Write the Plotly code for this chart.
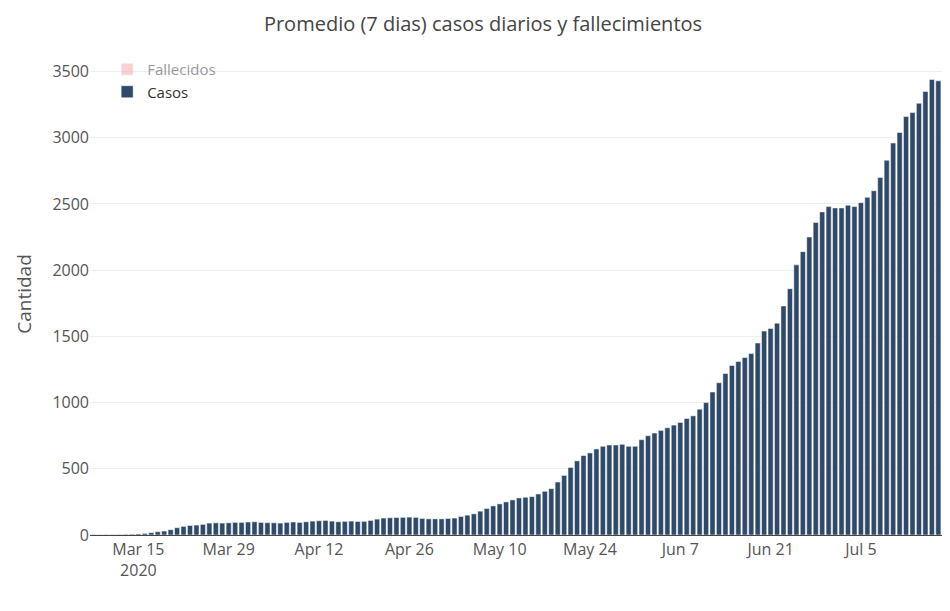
import pandas as pd
import plotly.graph_objects as go

fechas = pd.date_range("2020-03-08", periods=133, freq="D")

casos = [
    2, 2, 3, 3, 4, 5, 6,
    8, 12, 18, 25, 30, 40, 55,
    65, 72, 75, 80, 90, 92, 90,
    92, 95, 95, 98, 100, 95, 93,
    92, 90, 95, 98, 95, 100, 105,
    108, 110, 105, 100, 103, 105, 102,
    103, 110, 120, 128, 130, 132, 133,
    135, 133, 125, 122, 122, 122, 125,
    128, 140, 150, 160, 180, 200, 220,
    235, 250, 265, 280, 285, 290, 310,
    330, 350, 400, 450, 510, 560, 600,
    620, 650, 670, 680, 680, 685, 670,
    670, 720, 750, 770, 790, 810, 830,
    850, 880, 900, 950, 1000, 1080, 1150,
    1220, 1280, 1310, 1340, 1370, 1450, 1540,
    1560, 1600, 1730, 1860, 2040, 2140, 2250,
    2360, 2440, 2480, 2470, 2470, 2490, 2480,
    2510, 2550, 2600, 2700, 2830, 2960, 3040,
    3160, 3190, 3260, 3350, 3440, 3430, 3600,
]
# fallecidos: serie oculta (legendonly) en la referencia
fallecidos = [0] * 20 + [2] * 113

fig = go.Figure()
fig.add_trace(go.Bar(x=fechas, y=fallecidos, name="Fallecidos",
                     marker_color="#f4a3a3", visible="legendonly"))
fig.add_trace(go.Bar(x=fechas, y=casos, name="Casos",
                     marker_color="#2f4a69"))

fig.update_layout(
    template="plotly_white",
    barmode="stack",
    bargap=0.2,
    width=950, height=611,
    font=dict(family="Open Sans", size=16, color="#555"),
    title=dict(text="Promedio (7 dias) casos diarios y fallecimientos",
               x=0.5, y=0.985, font=dict(size=20, color="#444")),
    margin=dict(l=82, r=10, t=45, b=84),
    legend=dict(x=0.02, y=1.0, traceorder="normal", bgcolor="rgba(0,0,0,0)",
                font=dict(size=15, color="#333")),
    yaxis=dict(title=dict(text="Cantidad", font=dict(size=19)),
               range=[0, 3640], dtick=500, gridcolor="#eee", zeroline=False),
    xaxis=dict(tickformat="%b %-d\n%Y", dtick=14 * 86400000,
               tick0="2020-03-15", showline=True, linecolor="#444",
               range=["2020-03-07 12:00", "2020-07-18 12:00"]),
)

fig.write_html("out.html")
